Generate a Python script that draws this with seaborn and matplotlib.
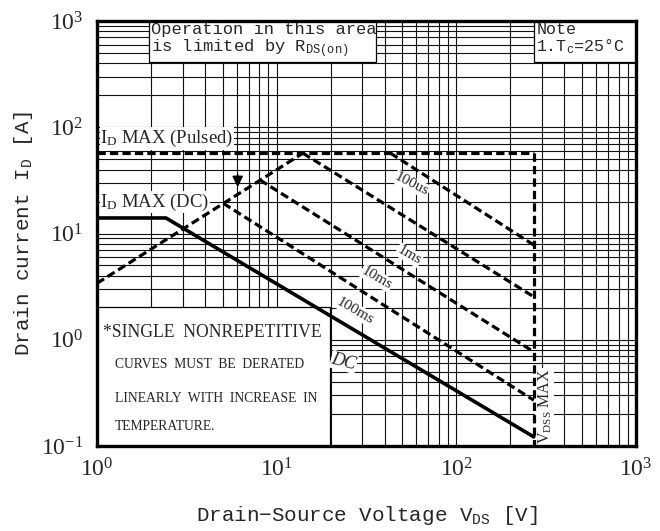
import numpy as np
import pandas as pd
import matplotlib
matplotlib.use('Agg')
import matplotlib.pyplot as plt
import seaborn as sns
from matplotlib.patches import Rectangle
from matplotlib.ticker import LogLocator, LogFormatterMathtext, NullFormatter

# SOA boundary curves, Vds [V] vs Id [A]
rds_v = [1, 14]
rds_i = [3.4, 57]
pulsed_v = [1, 270]
pulsed_i = [57, 57]
vdss_v = [270, 270]
vdss_i = [57, 0.1]
us100_v = [43, 270]
us100_i = [57, 7.8]
ms1_v = [14, 270]
ms1_i = [57, 2.54]
ms10_v = [8.07, 270]
ms10_i = [31.9, 0.77]
ms100_v = [5.05, 270]
ms100_i = [19.2, 0.27]
dc_v = [1, 2.42, 270]
dc_i = [14, 14, 0.122]
arrow_v = 6.07
arrow_i = [38, 25.7]

x_ticks = [1, 10, 100, 1000]
y_ticks = [0.1, 1, 10, 100, 1000]

sns.set_style('white')
plt.rcParams['font.family'] = ['Liberation Serif', 'DejaVu Sans']
plt.rcParams['mathtext.fontset'] = 'custom'
plt.rcParams['mathtext.rm'] = 'Liberation Serif'

fig = plt.figure(figsize=(6.6, 5.31), dpi=100)
ax = fig.add_axes([0.147, 0.160, 0.8165, 0.8005])
ax.set_xscale('log')
ax.set_yscale('log')

dash = (0, (2.6, 1.3))
dashed = [(rds_v, rds_i), (pulsed_v, pulsed_i), (vdss_v, vdss_i),
          (us100_v, us100_i), (ms1_v, ms1_i), (ms10_v, ms10_i), (ms100_v, ms100_i)]
for xs, ys in dashed:
    sns.lineplot(x=xs, y=ys, ax=ax, color='black', lw=2.3, linestyle=dash,
                 sort=False, estimator=None, zorder=4)
sns.lineplot(x=dc_v, y=dc_i, ax=ax, color='black', lw=2.6,
             sort=False, estimator=None, zorder=4)

ax.annotate('', xy=(arrow_v, arrow_i[1]), xytext=(arrow_v, arrow_i[0]),
            arrowprops=dict(arrowstyle='-|>', color='black', lw=1.2, mutation_scale=16),
            zorder=5)

ax.set_xlim(x_ticks[0], x_ticks[-1])
ax.set_ylim(y_ticks[0], y_ticks[-1])
ax.xaxis.set_major_locator(LogLocator(base=10))
ax.yaxis.set_major_locator(LogLocator(base=10))
ax.xaxis.set_minor_locator(LogLocator(base=10, subs=np.arange(2, 10)))
ax.yaxis.set_minor_locator(LogLocator(base=10, subs=np.arange(2, 10)))
ax.xaxis.set_major_formatter(LogFormatterMathtext())
ax.yaxis.set_major_formatter(LogFormatterMathtext())
ax.xaxis.set_minor_formatter(NullFormatter())
ax.yaxis.set_minor_formatter(NullFormatter())
ax.set_axisbelow(True)
ax.grid(which='both', color='#111111', lw=0.8)
ax.tick_params(which='both', length=0, labelsize=17)
ax.tick_params(axis='x', pad=9)
ax.tick_params(axis='y', pad=10)
for s in ax.spines.values():
    s.set_linewidth(2.4)
    s.set_color('black')
    s.set_zorder(6)

mono = ['Liberation Mono', 'DejaVu Sans Mono']
ax.set_xlabel('Drain\u2212Source Voltage V$\\mathregular{_{DS}}$ [V]', family=mono,
              fontsize=15)
ax.set_ylabel('Drain current I$\\mathregular{_D}$ [A]', family=mono, fontsize=15)
ax.xaxis.set_label_coords(0.5, -0.137)
ax.yaxis.set_label_coords(-0.115, 0.5)

# white note boxes
box_kw = dict(transform=ax.transAxes, facecolor='white', edgecolor='black', lw=0.9, zorder=2)
ax.add_patch(Rectangle((0.0965, 0.9035), 0.421, 0.0965, **box_kw))
ax.add_patch(Rectangle((0.8108, 0.9035), 0.1892, 0.0965, **box_kw))
ax.add_patch(Rectangle((0.0, 0.0), 0.432, 0.327, **box_kw))

ax.text(0.1, 0.997, 'Operation in this area\nis limited by R$\\mathregular{_{DS(on)}}$',
        transform=ax.transAxes, family=mono, fontsize=12.3, va='top', ha='left',
        linespacing=1.0, zorder=3)
ax.text(0.815, 0.997, 'Note\n1.T$\\mathregular{_c}$=25\u00b0C', transform=ax.transAxes,
        family=mono, fontsize=12, va='top', ha='left', linespacing=1.0, zorder=3)

lab_box = dict(facecolor='white', edgecolor='none', pad=0.5)
ax.text(0.006, 0.699, 'I$\\mathregular{_D}$ MAX (Pulsed)', transform=ax.transAxes,
        fontsize=13.5, va='bottom', ha='left', bbox=lab_box, zorder=3)
ax.text(0.006, 0.549, 'I$\\mathregular{_D}$ MAX (DC)', transform=ax.transAxes,
        fontsize=13.5, va='bottom', ha='left', bbox=lab_box, zorder=3)

ax.text(0.012, 0.266, '*SINGLE  NONREPETITIVE', transform=ax.transAxes,
        fontsize=12.7, va='center', ha='left', zorder=3)
notes = ['CURVES  MUST  BE  DERATED', 'LINEARLY  WITH  INCREASE  IN', 'TEMPERATURE.']
for k, line in enumerate(notes):
    ax.text(0.033, [0.193, 0.111, 0.045][k], line, transform=ax.transAxes,
            fontsize=9.8, va='center', ha='left', zorder=3)

curve_labels = [('100us', 0.584, 0.616, -27), ('1ms', 0.579, 0.449, -30),
                ('10ms', 0.519, 0.395, -30), ('100ms', 0.479, 0.318, -30)]
for txt, xf, yf, rot in curve_labels:
    ax.text(xf, yf, txt, transform=ax.transAxes, fontsize=11, rotation=rot,
            ha='center', va='center', bbox=lab_box, zorder=3)
ax.text(0.458, 0.198, 'DC', transform=ax.transAxes, fontsize=13, style='italic',
        rotation=-15, ha='center', va='center', bbox=lab_box, zorder=3)
ax.text(0.831, 0.094, 'V$\\mathregular{_{DSS}}$ MAX', transform=ax.transAxes, fontsize=11.5,
        rotation=90, ha='center', va='center', bbox=lab_box, zorder=3)

fig.savefig('out.png', dpi=100)
